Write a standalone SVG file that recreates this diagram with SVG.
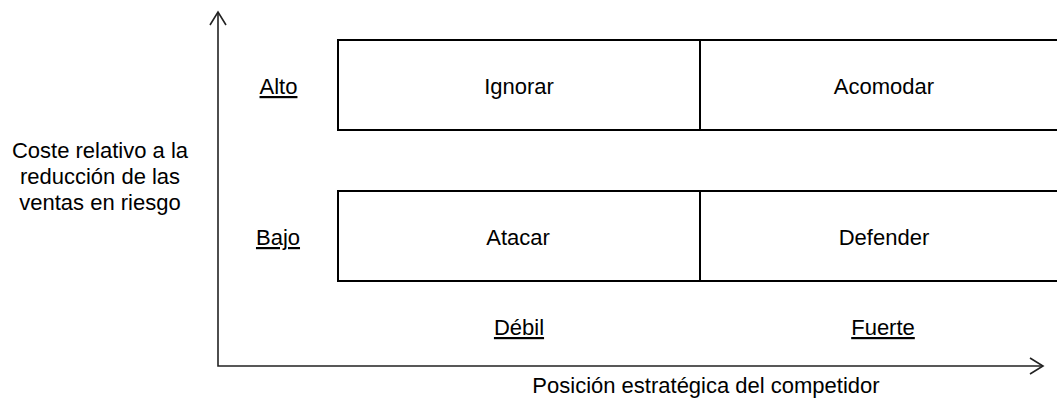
<svg xmlns="http://www.w3.org/2000/svg" width="1057" height="401" viewBox="0 0 1057 401">
<style>
text{font-family:"Liberation Sans",Arial,sans-serif;font-size:22px;fill:#000;text-anchor:middle}
.u{text-decoration:underline}
.box{fill:none;stroke:#000;stroke-width:2}
.ax{fill:none;stroke:#222;stroke-width:1.6}
</style>
<rect width="1057" height="401" fill="#fff"/>
<g id="connectors">
<path class="ax" d="M218,12 V366 H1043"/>
<path class="ax" d="M210,25 L218,12 L226,25"/>
<path class="ax" d="M1030,358 L1043,366 L1030,374"/>
</g>
<g id="ignorar"><path class="box" d="M1060,40 H338 V130 H1060"/><text x="519" y="94">Ignorar</text></g>
<g id="acomodar"><path class="box" d="M700,40 V130"/><text x="884" y="94">Acomodar</text></g>
<g id="atacar"><path class="box" d="M1060,191 H338 V281 H1060"/><text x="518" y="245">Atacar</text></g>
<g id="defender"><path class="box" d="M700,191 V281"/><text x="884" y="245">Defender</text></g>
<g id="alto"><text class="u" x="278.5" y="94">Alto</text></g>
<g id="bajo"><text class="u" x="278" y="245">Bajo</text></g>
<g id="debil"><text class="u" x="519" y="335">Débil</text></g>
<g id="fuerte"><text class="u" x="883" y="335">Fuerte</text></g>
<g id="ylabel"><text x="100" y="158">Coste relativo a la</text><text x="100" y="184">reducción de las</text><text x="100" y="210">ventas en riesgo</text></g>
<g id="xlabel"><text x="706" y="393">Posición estratégica del competidor</text></g>
</svg>
